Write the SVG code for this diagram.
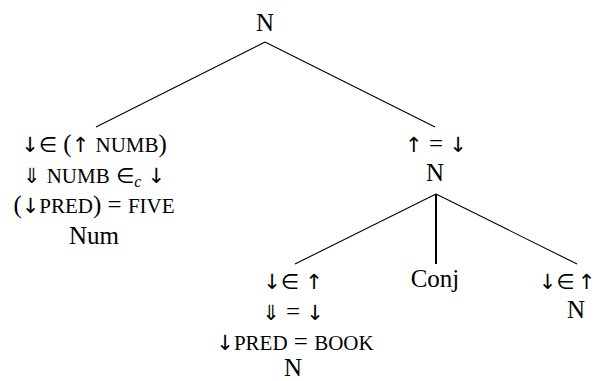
<svg xmlns="http://www.w3.org/2000/svg" width="598" height="381" viewBox="0 0 598 381">
<style>
  .t { font-family: "Liberation Serif", "Times New Roman", serif; font-size: 25px; fill: #000; text-anchor: middle; }
  .sc { font-size: 21px; }
  .it { font-style: italic; font-size: 16px; }
  .m { font-family: "DejaVu Sans", sans-serif; font-size: 21px; font-weight: normal; }
  .edge { stroke: #000; stroke-width: 1.1; fill: none; }
  .vert { stroke: #000; stroke-width: 2; fill: none; }
</style>
<rect width="598" height="381" fill="#fff"/>
<g id="connectors">
  <line class="edge" x1="265" y1="42" x2="96" y2="127"/>
  <line class="edge" x1="265" y1="42" x2="435" y2="127"/>
  <line class="edge" x1="436" y1="194" x2="295" y2="264"/>
  <line class="vert" x1="436" y1="194" x2="436" y2="264"/>
  <line class="edge" x1="436" y1="194" x2="577" y2="264"/>
</g>
<g id="root">
  <text class="t" font-family="Liberation Serif" x="265" y="31">N</text>
</g>
<g id="num">
  <text class="t" font-family="Liberation Serif" x="94" y="152"><tspan class="m">↓︎∈</tspan> (<tspan class="m">↑︎</tspan> <tspan class="sc">NUMB</tspan>)</text>
  <text class="t" font-family="Liberation Serif" x="94" y="183"><tspan class="m">⇓</tspan> <tspan class="sc">NUMB</tspan> <tspan class="m">∈</tspan><tspan class="it" dy="4">c</tspan><tspan dy="-4"> </tspan><tspan class="m">↓︎</tspan></text>
  <text class="t" font-family="Liberation Serif" x="94" y="213">(<tspan class="m">↓︎</tspan><tspan class="sc">PRED</tspan>) = <tspan class="sc">FIVE</tspan></text>
  <text class="t" font-family="Liberation Serif" x="94" y="244">Num</text>
</g>
<g id="n2">
  <text class="t" font-family="Liberation Serif" x="436" y="152"><tspan class="m">↑︎</tspan> = <tspan class="m">↓︎</tspan></text>
  <text class="t" font-family="Liberation Serif" x="435" y="181">N</text>
</g>
<g id="n-book">
  <text class="t" font-family="Liberation Serif" x="293" y="289"><tspan class="m">↓︎∈</tspan> <tspan class="m">↑︎</tspan></text>
  <text class="t" font-family="Liberation Serif" x="293" y="320"><tspan class="m">⇓</tspan> = <tspan class="m">↓︎</tspan></text>
  <text class="t" font-family="Liberation Serif" x="295" y="350"><tspan class="m">↓︎</tspan><tspan class="sc">PRED</tspan> = <tspan class="sc">BOOK</tspan></text>
  <text class="t" font-family="Liberation Serif" x="293" y="376">N</text>
</g>
<g id="conj">
  <text class="t" font-family="Liberation Serif" x="435" y="287">Conj</text>
</g>
<g id="n3">
  <text class="t" font-family="Liberation Serif" x="567" y="289"><tspan class="m">↓︎∈</tspan><tspan font-size="12"> </tspan><tspan class="m">↑︎</tspan></text>
  <text class="t" font-family="Liberation Serif" x="576" y="318">N</text>
</g>
</svg>
